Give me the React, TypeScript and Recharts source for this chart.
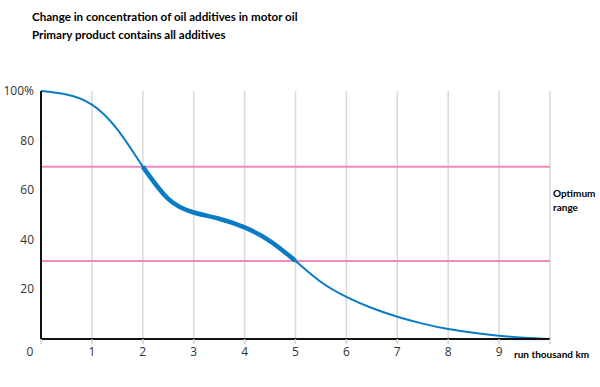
import { LineChart, Line, XAxis, YAxis, CartesianGrid, ReferenceLine } from "recharts";

const runKm = [0, 0.5, 1, 1.5, 2, 2.5, 3, 3.5, 4, 4.5, 5, 5.5, 6, 6.5, 7, 7.5, 8, 8.5, 9, 9.5, 10];
const concentration = [100, 98.6, 94.5, 84.5, 69.5, 56.5, 51, 48.5, 45, 39.5, 31.5, 23, 17, 12.5, 9, 6.2, 4, 2.5, 1.3, 0.5, 0];
const xTicks = [0, 1, 2, 3, 4, 5, 6, 7, 8, 9, 10];
const yTicks = [20, 40, 60, 80, 100];
const optimumLow = 31.5;
const optimumHigh = 69.5;

const data = runKm.map((x, i) => ({
  x,
  value: concentration[i],
  optimum: x >= 2 && x <= 5 ? concentration[i] : null,
}));

const FONT = "'Open Sans', sans-serif";
const BOLD = "Lato, sans-serif";

function XTick(props: any) {
  const { x, y, payload } = props;
  if (payload.value === 10) return null;
  const dx = payload.value === 0 ? -11 : 0;
  return (
    <text x={x + dx} y={y + 10} textAnchor="middle" fontSize={12} fill="#333" fontFamily={FONT}>
      {payload.value}
    </text>
  );
}

function YTick(props: any) {
  const { x, y, payload } = props;
  return (
    <text x={x + 1} y={y + 4} textAnchor="end" fontSize={12} fill="#333" fontFamily={FONT}>
      {payload.value === 100 ? "100%" : payload.value}
    </text>
  );
}

export default function App() {
  return (
    <div style={{ position: "absolute", left: 0, top: 0, width: 600, height: 387, background: "#fff" }}>
      <LineChart width={600} height={387} data={data} margin={{ top: 91, right: 50, bottom: 47, left: 40 }}>
        <text x={32} y={21} fontSize={11.6} fontWeight="bold" fontFamily={BOLD} fill="#000">
          Change in concentration of oil additives in motor oil
        </text>
        <text x={32} y={39} fontSize={11.6} fontWeight="bold" fontFamily={BOLD} fill="#000">
          Primary product contains all additives
        </text>
        <CartesianGrid horizontal={false} stroke="#d9d9d9" strokeWidth={1.5} />
        <XAxis
          dataKey="x"
          type="number"
          domain={[0, 10]}
          ticks={xTicks}
          height={1}
          axisLine={{ stroke: "#111", strokeWidth: 2 }}
          tickLine={{ stroke: "#d0d0d0", strokeWidth: 1.5 }}
          tickSize={5}
          tick={<XTick />}
        />
        <YAxis
          type="number"
          domain={[0, 100]}
          ticks={yTicks}
          width={1}
          axisLine={{ stroke: "#111", strokeWidth: 2 }}
          tickLine={false}
          tick={<YTick />}
        />
        <ReferenceLine y={optimumHigh} stroke="#ee8abd" strokeWidth={2} />
        <ReferenceLine y={optimumLow} stroke="#ee8abd" strokeWidth={2} />
        <Line type="natural" dataKey="value" stroke="#0a7cc5" strokeWidth={2} dot={false} isAnimationActive={false} />
        <Line type="natural" dataKey="optimum" stroke="#0a7cc5" strokeWidth={4.5} dot={false} isAnimationActive={false} />
        <text x={553} y={197} fontSize={10} fontWeight="bold" fontFamily={BOLD} fill="#000">Optimum</text>
        <text x={553} y={211} fontSize={10} fontWeight="bold" fontFamily={BOLD} fill="#000">range</text>
        <text x={514} y={358} fontSize={10} fontWeight="bold" fontFamily={BOLD} fill="#000">run thousand km</text>
      </LineChart>
    </div>
  );
}
